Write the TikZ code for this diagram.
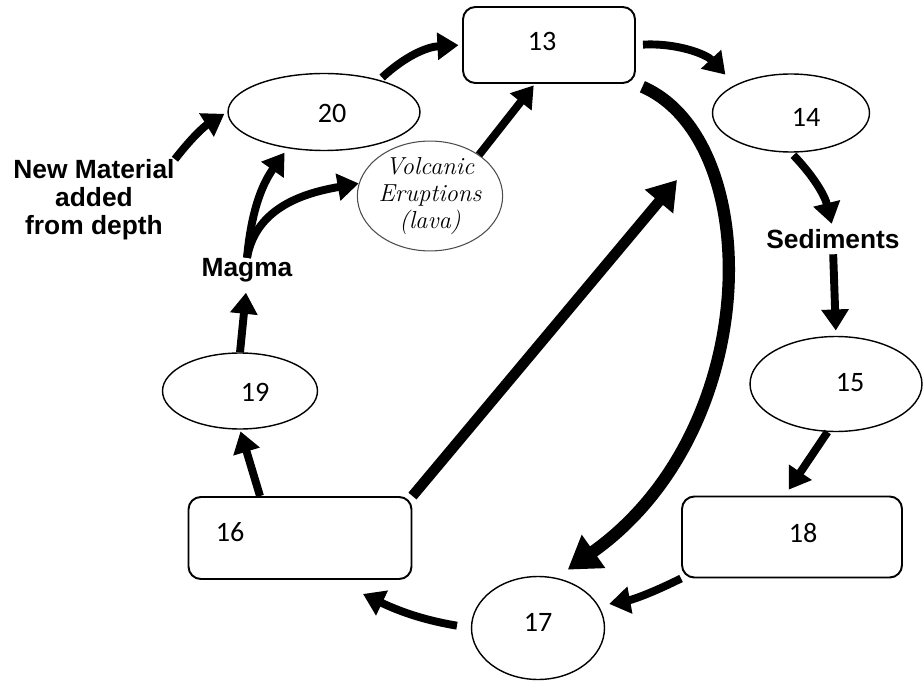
\documentclass[tikz,border=0pt]{standalone}
\usepackage{fontspec}
\usepackage{tikz}
\usetikzlibrary{positioning,arrows.meta,shapes.geometric}
\newfontfamily\numfont{Carlito}
\newfontfamily\labfont{Liberation Sans}

\begin{document}
\begin{tikzpicture}[x=0.02cm,y=-0.02cm]
 \tikzset{box/.style={draw,rectangle,rounded corners=7pt,line width=1.1pt,inner sep=0pt},
  oval/.style={draw,ellipse,line width=0.8pt,inner sep=0pt},
  num/.style={font=\numfont\fontsize{16}{18}\selectfont,inner sep=0pt},
  lab/.style={font=\labfont\bfseries\fontsize{15}{16}\selectfont,align=center,inner sep=0pt},
  flow/.style={line width=4.5pt,-{Triangle[length=12pt,width=15pt]}},
  bigflow/.style={line width=7pt,-{Triangle[length=18pt,width=22pt]}}}
 \useasboundingbox (0,0) rectangle (923,682);

 \node[box,minimum width=3.44cm,minimum height=1.52cm] (b13) at (549,45) {};
 \node[num] (t13) at (542,41) {13};
 \node[oval,minimum width=3.84cm,minimum height=1.54cm] (e20) at (324,112) {};
 \node[num] (t20) at (332,113) {20};
 \node[oval,minimum width=3.14cm,minimum height=1.56cm] (e14) at (791,113) {};
 \node[num] (t14) at (806,117) {14};
 \node[oval,minimum width=3.44cm,minimum height=1.9cm] (e15) at (836,384) {};
 \node[num] (t15) at (850,383) {15};
 \node[box,minimum width=4.4cm,minimum height=1.62cm] (b18) at (792,537) {};
 \node[num] (t18) at (803,533) {18};
 \node[oval,minimum width=2.66cm,minimum height=2.06cm] (e17) at (538,628) {};
 \node[num] (t17) at (538,622) {17};
 \node[box,minimum width=4.46cm,minimum height=1.64cm] (b16) at (300,538) {};
 \node[num] (t16) at (230,532) {16};
 \node[oval,minimum width=3.1cm,minimum height=1.52cm] (e19) at (240,391) {};
 \node[num] (t19) at (255,392) {19};
 \node[oval,draw=black!70,line width=0.6pt,minimum width=2.48cm,minimum height=2.12cm,
  font=\itshape\fontsize{14}{15.5}\selectfont,align=center] (volc) at (430,196) {Volcanic\\Eruptions\\(lava)};

 \node[lab] (nm) at (94,200) {New Material\\added\\from depth};
 \node[lab] (mg) at (247,270) {Magma};
 \node[lab] (sd) at (833,239) {Sediments};
 \coordinate (tip) at (677,180);

 \draw[flow,shorten >=2pt] (nm.north east) to[bend left=10] (e20.west);
 \draw[flow,shorten <=2pt,shorten >=2pt] (e20.30) to[bend left=20] (b13.west);
 \draw[flow,shorten >=3pt] (mg.north) to[bend left=15] (e20.225);
 \draw[flow] (mg.north) to[out=80,in=190] (volc.170);
 \draw[flow,shorten >=1pt] (volc.40) -- (b13.250);
 \draw[flow,shorten <=4pt,shorten >=8pt] (b13.east) to[bend left=25] (e14.north west);
 \draw[flow,shorten <=2pt,shorten >=3pt] (e14.south) to[bend left=15] (sd.north);
 \draw[flow,shorten <=3pt,shorten >=3pt] (sd.south) -- (e15.north);
 \draw[flow,shorten >=4pt] (e15.260) -- (b18.100);
 \draw[flow,shorten >=6pt] (b18.south west) to[bend left=8] (e17.20);
 \draw[flow,shorten <=8pt] (e17.west) to[bend left=8] ([shift={(63,14)}]b16.south);
 \draw[flow,shorten >=1pt] ([shift={(-40,0)}]b16.north) -- (e19.south);
 \draw[flow,shorten >=6pt] (e19.north) -- (mg.south);
 \draw[bigflow,shorten <=4pt,shorten >=8pt] (b13.south east) .. controls (765,140) and (765,430) .. (e17.70);
 \draw[flow,line width=6pt,-{Triangle[length=16pt,width=20pt]}] (b16.north east) -- (tip);
\end{tikzpicture}
\end{document}
